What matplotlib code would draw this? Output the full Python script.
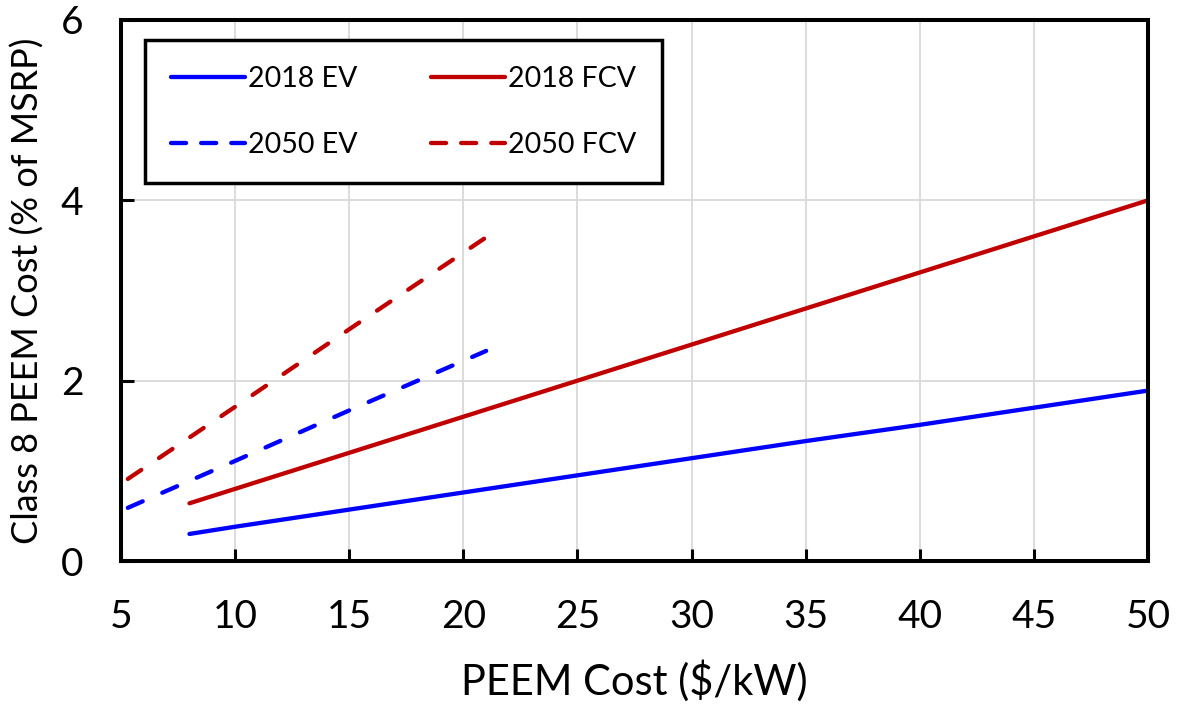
import matplotlib
matplotlib.use("Agg")
import matplotlib.pyplot as plt
from matplotlib.lines import Line2D

# Data
ev2018_x = [8, 10, 15, 20, 25, 30, 35, 40, 45, 50]
ev2018_y = [0.30, 0.38, 0.57, 0.76, 0.95, 1.14, 1.33, 1.51, 1.70, 1.89]
fcv2018_x = [8, 10, 15, 20, 25, 30, 35, 40, 45, 50]
fcv2018_y = [0.64, 0.80, 1.20, 1.60, 2.00, 2.40, 2.80, 3.20, 3.60, 4.00]
ev2050_x = [5.3, 10, 15, 21]
ev2050_y = [0.59, 1.11, 1.67, 2.33]
fcv2050_x = [5.3, 10, 15, 21]
fcv2050_y = [0.91, 1.71, 2.57, 3.59]

series_labels = ["2018 EV", "2050 EV", "2018 FCV", "2050 FCV"]
x_ticks = [5, 10, 15, 20, 25, 30, 35, 40, 45, 50]
y_ticks = [0, 2, 4, 6]

BLUE = "#0000FF"
RED = "#C00000"

plt.rcParams['font.family'] = ['Lato', 'DejaVu Sans']

fig = plt.figure(figsize=(11.82, 7.10), dpi=100)
ax = fig.add_axes([121/1182, 1 - 561/710, (1148-121)/1182, (561-20)/710])

lw = 3.1
dash = (0, (3.76, 4.97))
ax.plot(ev2018_x, ev2018_y, color=BLUE, lw=lw, solid_capstyle='round')
ax.plot(ev2050_x, ev2050_y, color=BLUE, lw=lw, ls=dash, dash_capstyle='round')
ax.plot(fcv2018_x, fcv2018_y, color=RED, lw=lw, solid_capstyle='round')
ax.plot(fcv2050_x, fcv2050_y, color=RED, lw=lw, ls=dash, dash_capstyle='round')

ax.set_xlim(5, 50)
ax.set_ylim(0, 6)
ax.set_xticks(x_ticks)
ax.set_yticks(y_ticks)
ax.grid(True, color="#d9d9d9", lw=1.3)
ax.set_axisbelow(True)

for s in ax.spines.values():
    s.set_linewidth(2.9)
    s.set_color("black")

ax.tick_params(direction='in', length=9, width=2.2, labelsize=28, pad=27, colors='black')

ax.set_xlabel("PEEM Cost ($/kW)", fontsize=30, labelpad=18)
ax.set_ylabel("Class 8 PEEM Cost (% of MSRP)", fontsize=26, labelpad=12)

leg_dash = (0, (3.5, 3.5))
handles = [
    Line2D([], [], color=BLUE, lw=lw, solid_capstyle='round'),
    Line2D([], [], color=BLUE, lw=lw, ls=leg_dash, dash_capstyle='round'),
    Line2D([], [], color=RED, lw=lw, solid_capstyle='round'),
    Line2D([], [], color=RED, lw=lw, ls=leg_dash, dash_capstyle='round'),
]
leg = ax.legend(handles, series_labels, ncol=2, loc='upper left',
                bbox_to_anchor=(0.0234, 0.963),
                borderaxespad=0, fontsize=20.5, frameon=True, fancybox=False,
                edgecolor='black', handlelength=2.6, handletextpad=0.1,
                columnspacing=2.6, labelspacing=1.4, borderpad=0.9)
leg.get_frame().set_linewidth(2.5)
leg.get_frame().set_alpha(1)

fig.savefig("out.png", dpi=100)
